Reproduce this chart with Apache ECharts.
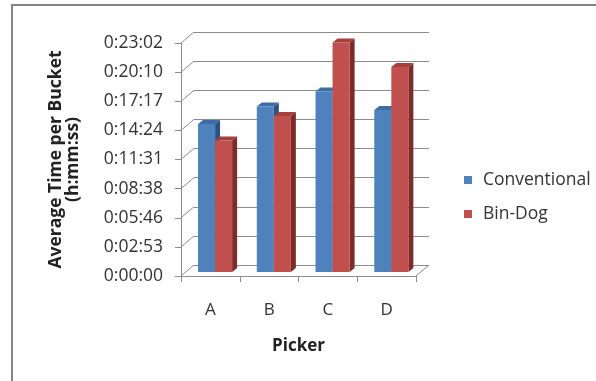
<!DOCTYPE html>
<html>
<head>
<meta charset="utf-8">
<script src="https://cdn.jsdelivr.net/npm/echarts@6/dist/echarts.min.js"></script>
<style>
html, body { margin: 0; padding: 0; background: #fff; }
#chart { width: 596px; height: 381px; }
</style>
</head>
<body>
<div id="chart"></div>
<script>
// Pickers and their average time per bucket, in seconds
const categories = ['A', 'B', 'C', 'D'];
const seriesNames = ['Conventional', 'Bin-Dog'];
const conventional = [878, 982, 1071, 961];
const binDog = [780, 926, 1362, 1216];

// Value axis: one tick every 0.002 day (172.8 s)
const tickStep = 172.8;
const tickLabels = ['0:00:00', '0:02:53', '0:05:46', '0:08:38', '0:11:31',
                    '0:14:24', '0:17:17', '0:20:10', '0:23:02'];
const axisMax = tickStep * (tickLabels.length - 1);

const FONT = '"Open Sans", "Noto Sans", sans-serif';
const LINE = '#8c8c8c';
const TEXT = '#333333';

// pseudo-3D geometry: wall depth, bar plane shift, bar depth
const WALL = { x: 13, y: -11 };
const SHIFT = { x: 4.7, y: -4 };
const DEPTH = { x: 5, y: -4 };

const palettes = [
  { front: '#4F81BD', top: '#3D6CA6', side: '#2C5282' },
  { front: '#C0504D', top: '#A53F3C', side: '#7E2C2A' }
];

function barRenderer(idx) {
  const c = palettes[idx];
  return function (params, api) {
    const cat = api.value(0);
    const val = api.value(1);
    const topPt = api.coord([cat, val]);
    const basePt = api.coord([cat, 0]);
    const band = api.size([1, 0])[0];
    const w = band * 0.29;
    const x0 = topPt[0] + SHIFT.x + (idx === 0 ? -w : 0);
    const yT = topPt[1] + SHIFT.y;
    const yB = basePt[1] + SHIFT.y;
    return {
      type: 'group',
      children: [
        { type: 'polygon', shape: { points: [[x0 + w, yT], [x0 + w + DEPTH.x, yT + DEPTH.y], [x0 + w + DEPTH.x, yB + DEPTH.y], [x0 + w, yB]] }, style: { fill: c.side } },
        { type: 'polygon', shape: { points: [[x0, yT], [x0 + DEPTH.x, yT + DEPTH.y], [x0 + w + DEPTH.x, yT + DEPTH.y], [x0 + w, yT]] }, style: { fill: c.top } },
        { type: 'rect', shape: { x: x0, y: yT, width: w, height: yB - yT }, style: { fill: c.front } }
      ]
    };
  };
}

// side wall and floor edges joining the front axis to the back wall
function wallRenderer(params, api) {
  const v = api.value(1);
  const p = api.coord([0, v]);
  const cs = params.coordSys;
  const kids = [{
    type: 'line',
    shape: { x1: cs.x, y1: p[1], x2: cs.x + WALL.x, y2: p[1] + WALL.y },
    style: { stroke: LINE, lineWidth: 1 }
  }];
  if (v === 0) {
    kids.push({
      type: 'line',
      shape: { x1: cs.x + cs.width, y1: p[1], x2: cs.x + cs.width + WALL.x, y2: p[1] + WALL.y },
      style: { stroke: LINE, lineWidth: 1 }
    });
  }
  return { type: 'group', children: kids };
}

const chart = echarts.init(document.getElementById('chart'), null, { renderer: 'canvas' });

const valueAxisBase = { type: 'value', min: 0, max: axisMax, interval: tickStep };

chart.setOption({
  backgroundColor: '#ffffff',
  animation: false,
  textStyle: { fontFamily: FONT },
  graphic: [{
    type: 'rect',
    shape: { x: 12, y: 5, width: 640, height: 420 },
    style: { fill: null, stroke: '#858585', lineWidth: 2 },
    silent: true
  }],
  legend: {
    data: seriesNames,
    orient: 'vertical',
    left: 459,
    top: 166,
    icon: 'rect',
    itemWidth: 8,
    itemHeight: 8,
    itemGap: 16,
    textStyle: { fontFamily: FONT, fontSize: 17.5, color: TEXT, padding: [0, 0, 0, 6] }
  },
  grid: [
    { left: 181, top: 43, width: 235, height: 233 },
    { left: 194, top: 32, width: 235, height: 233 }
  ],
  xAxis: [
    {
      type: 'category', gridIndex: 0, data: categories,
      axisLine: { show: true, lineStyle: { color: LINE } },
      axisTick: { show: true, length: 6, lineStyle: { color: LINE } },
      axisLabel: { margin: 26, fontSize: 17, color: TEXT, fontFamily: FONT },
      name: 'Picker', nameLocation: 'middle', nameGap: 62,
      nameTextStyle: { fontSize: 17, fontWeight: 'bold', color: '#222', fontFamily: FONT }
    },
    {
      type: 'category', gridIndex: 1, data: categories, show: false
    }
  ],
  yAxis: [
    Object.assign({}, valueAxisBase, {
      gridIndex: 0,
      axisLine: { show: true, lineStyle: { color: LINE } },
      axisTick: { show: true, length: 6, lineStyle: { color: LINE } },
      splitLine: { show: false },
      axisLabel: {
        margin: 18, fontSize: 17.5, color: TEXT, fontFamily: FONT,
        formatter: v => tickLabels[Math.round(v / tickStep)]
      },
      name: 'Average Time per Bucket\n(h:mm:ss)',
      nameLocation: 'middle', nameRotate: 90, nameGap: 99,
      nameTextStyle: { fontSize: 17.5, fontWeight: 'bold', color: '#222', lineHeight: 17, fontFamily: FONT }
    }),
    Object.assign({}, valueAxisBase, {
      gridIndex: 1,
      axisLine: { show: false },
      axisTick: { show: false },
      axisLabel: { show: false },
      splitLine: { show: true, lineStyle: { color: LINE, width: 1 } }
    })
  ],
  series: [
    {
      type: 'custom', name: 'wall', xAxisIndex: 0, yAxisIndex: 0, silent: true, z: 1,
      renderItem: wallRenderer,
      data: tickLabels.map((t, i) => [0, i * tickStep])
    },
    {
      type: 'custom', name: seriesNames[0], xAxisIndex: 0, yAxisIndex: 0, z: 3,
      itemStyle: { color: palettes[0].front },
      renderItem: barRenderer(0),
      encode: { x: 0, y: 1 },
      data: conventional.map((v, i) => [i, v])
    },
    {
      type: 'custom', name: seriesNames[1], xAxisIndex: 0, yAxisIndex: 0, z: 4,
      itemStyle: { color: palettes[1].front },
      renderItem: barRenderer(1),
      encode: { x: 0, y: 1 },
      data: binDog.map((v, i) => [i, v])
    }
  ]
});
</script>
</body>
</html>
